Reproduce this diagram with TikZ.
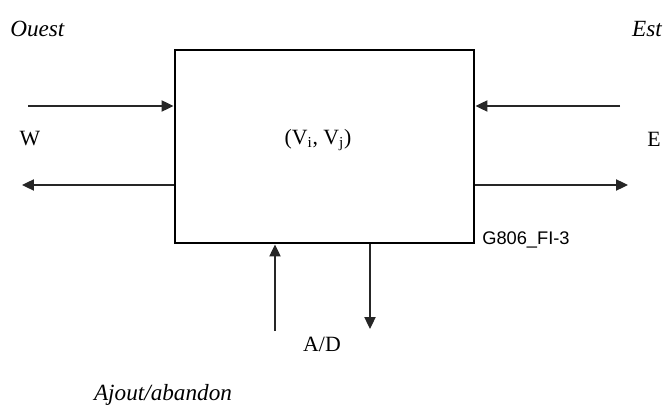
\documentclass[tikz,border=0pt]{standalone}
\usepackage{fontspec}
\setmainfont{Liberation Serif}
\setsansfont{Liberation Sans}
\usepackage{tikz}
\usetikzlibrary{arrows.meta, positioning}

\begin{document}
\begin{tikzpicture}[
  block/.style={
    rectangle, draw=black, line width=2.1pt,
    minimum width=7.475cm, minimum height=4.825cm,
    inner sep=0pt
  },
  %% textes en italique (directions)
  dirlabel/.style={
    font=\fontsize{16.5}{19}\selectfont\itshape, inner sep=0pt
  },
  sig/.style={
    font=\fontsize{15.5}{18}\selectfont, inner sep=0pt
  },
  figref/.style={
    font=\sffamily\fontsize{13}{15}\selectfont, inner sep=0pt
  },
  arr/.style={
    -{Triangle[length=8.5pt, width=8pt]}, line width=0.9pt, color=black!85
  }
]
\useasboundingbox (0, 0) rectangle (16.6, 10.1);

%% ── Bloc central ───────────────────────────────────────────────────────────
\node[block] (cell) at (8.1125, 6.4375) {};
\node[sig] (vij) at (7.95, 6.6)
  {(V\textsubscript{i}, V\textsubscript{j})};
\node[figref, anchor=west] (ref) at (12.05, 4.1) {G806\_FI-3};

%% ── Textes ─────────────────────────────────────────────────────────────────
\node[dirlabel, anchor=west] (ouest) at (0.25, 9.375) {Ouest};
\node[dirlabel, anchor=east] (est)   at (16.55, 9.375) {Est};
\node[sig] (west) at (0.75, 6.625)  {W};
\node[sig] (east) at (16.35, 6.625) {E};
\node[sig] (ad)   at (8.05, 1.5)    {A/D};
\node[dirlabel, anchor=base] (ajout) at (4.075, 0.08) {Ajout/abandon};

%% ── Extrémités libres ──────────────────────────────────────────────────────
\coordinate (winS)  at (0.7, 7.45);
\coordinate (woutE) at (0.55, 5.475);
\coordinate (einS)  at (15.5, 7.45);
\coordinate (eoutE) at (15.7, 5.475);
\coordinate (adinS)  at (6.875, 1.825);
\coordinate (adoutE) at (9.25, 1.875);

%% ────────────────── FLECHES ────────────────────────────────────────────────

%% Ouest
\draw[arr] (winS) -- (winS -| cell.west);
\draw[arr] (woutE -| cell.west) -- (woutE);

%% Est
\draw[arr] (einS) -- (einS -| cell.east);
\draw[arr] (eoutE -| cell.east) -- (eoutE);

%% Ajout / abandon
\draw[arr] (adinS) -- (adinS |- cell.south);
\draw[arr] (adoutE |- cell.south) -- (adoutE);

\end{tikzpicture}
\end{document}
